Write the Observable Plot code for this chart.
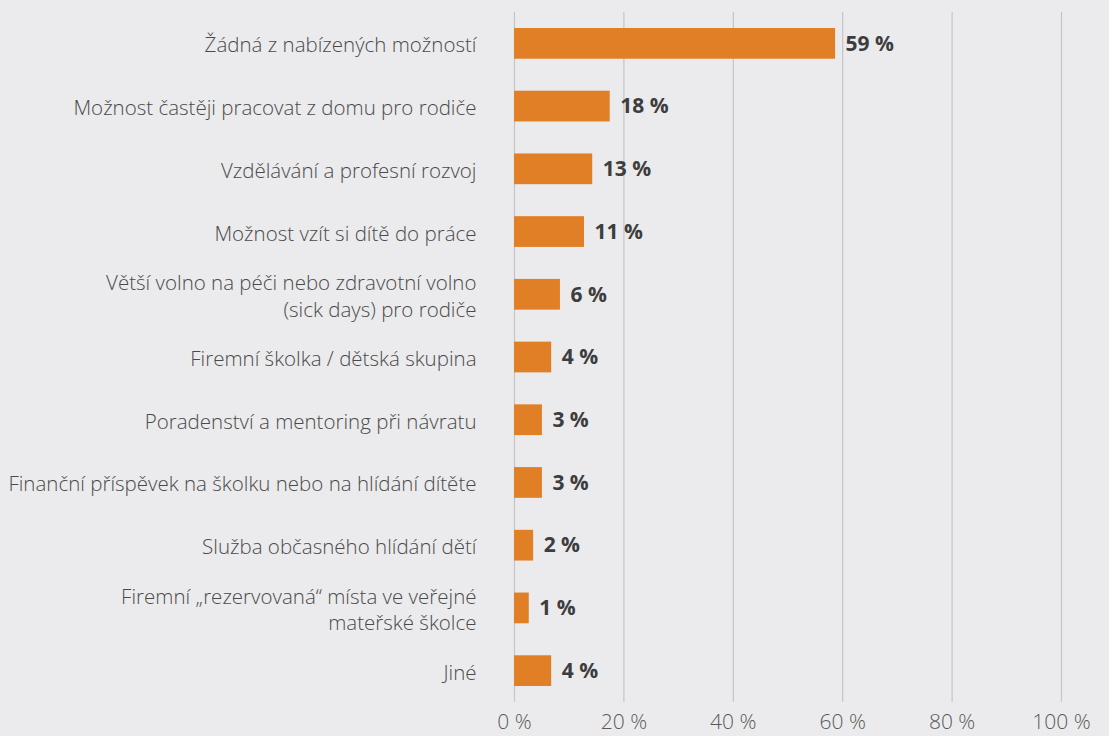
<!DOCTYPE html>
<html>
<head>
<meta charset="utf-8">
<script src="https://cdn.jsdelivr.net/npm/d3@7"></script>
<script src="https://cdn.jsdelivr.net/npm/@observablehq/plot@0.6"></script>
<style>
  html, body { margin: 0; padding: 0; background: #ebebed; }
  #chart svg { display: block; }
</style>
</head>
<body>
<div id="chart"></div>
<script>
const categories = [
  "Žádná z nabízených možností",
  "Možnost častěji pracovat z domu pro rodiče",
  "Vzdělávání a profesní rozvoj",
  "Možnost vzít si dítě do práce",
  "Větší volno na péči nebo zdravotní volno\n(sick days) pro rodiče",
  "Firemní školka / dětská skupina",
  "Poradenství a mentoring při návratu",
  "Finanční příspěvek na školku nebo na hlídání dítěte",
  "Služba občasného hlídání dětí",
  "Firemní „rezervovaná“ místa ve veřejné\nmateřské školce",
  "Jiné"
];
// bar lengths as drawn in the reference (percent)
const barValues = [58.7, 17.5, 14.3, 12.8, 8.4, 6.8, 5.1, 5.1, 3.5, 2.7, 6.8];
// printed data labels (percent)
const labelValues = [59, 18, 13, 11, 6, 4, 3, 3, 2, 1, 4];
const xTicks = [0, 20, 40, 60, 80, 100];

const data = categories.map((c, i) => ({category: c, value: barValues[i], label: labelValues[i] + " %"}));

const chart = Plot.plot({
  width: 1109,
  height: 736,
  marginLeft: 514,
  marginRight: 48,
  marginTop: 12,
  marginBottom: 34,
  style: {background: "#ebebed", fontFamily: "'Open Sans', sans-serif", fontSize: "20.5px"},
  x: {domain: [0, 100]},
  y: {domain: categories, paddingInner: 0.51, paddingOuter: 0.255, round: false},
  marks: [
    Plot.ruleX(xTicks, {stroke: "#c5c5c8", strokeWidth: 1.2}),
    Plot.barX(data, {x: "value", y: "category", fill: "#e07f26"}),
    Plot.text(data, {x: "value", y: "category", text: "label", textAnchor: "start", dx: 10, fill: "#3d3d3d", fontWeight: "bold", fontSize: 21}),
    Plot.axisY({tickSize: 0, tickPadding: 38, fill: "#4a4a4a", fontSize: 20.5, fontWeight: 300, lineHeight: 1.3, label: null}),
    Plot.axisX(xTicks, {tickSize: 0, tickPadding: 12, fill: "#5a5a5a", fontSize: 21, fontWeight: 300, tickFormat: d => d + " %", label: null})
  ]
});
document.getElementById("chart").appendChild(chart);
</script>
</body>
</html>
